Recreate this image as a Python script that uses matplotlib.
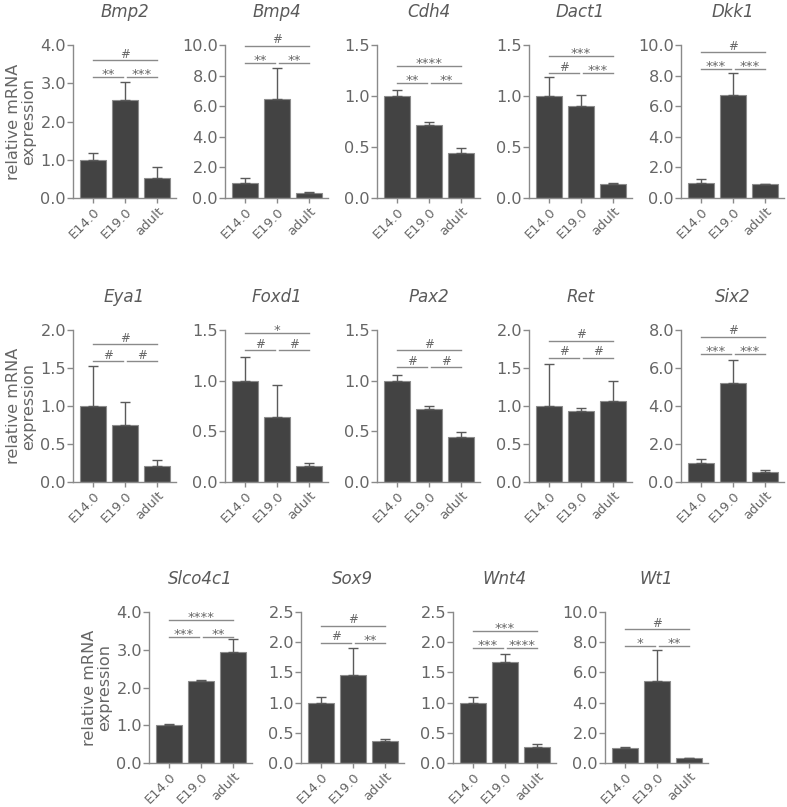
import matplotlib
matplotlib.use("Agg")
import matplotlib.pyplot as plt
import numpy as np

plt.rcParams['font.family'] = ['DejaVu Sans']

# ---------------- data ----------------
groups = ["E14.0", "E19.0", "adult"]
genes = ["Bmp2", "Bmp4", "Cdh4", "Dact1", "Dkk1",
         "Eya1", "Foxd1", "Pax2", "Ret", "Six2",
         "Slco4c1", "Sox9", "Wnt4", "Wt1"]

means = {
    "Bmp2":    [1.00, 2.55, 0.53],
    "Bmp4":    [1.00, 6.45, 0.35],
    "Cdh4":    [1.00, 0.72, 0.44],
    "Dact1":   [1.00, 0.90, 0.14],
    "Dkk1":    [1.00, 6.70, 0.90],
    "Eya1":    [1.00, 0.75, 0.21],
    "Foxd1":   [1.00, 0.64, 0.16],
    "Pax2":    [1.00, 0.72, 0.44],
    "Ret":     [1.00, 0.94, 1.06],
    "Six2":    [1.00, 5.20, 0.52],
    "Slco4c1": [1.00, 2.18, 2.95],
    "Sox9":    [1.00, 1.45, 0.36],
    "Wnt4":    [1.00, 1.68, 0.26],
    "Wt1":     [1.00, 5.45, 0.30],
}
errors = {
    "Bmp2":    [0.17, 0.47, 0.27],
    "Bmp4":    [0.33, 2.05, 0.07],
    "Cdh4":    [0.06, 0.03, 0.05],
    "Dact1":   [0.19, 0.11, 0.01],
    "Dkk1":    [0.25, 1.45, 0.02],
    "Eya1":    [0.52, 0.30, 0.08],
    "Foxd1":   [0.23, 0.32, 0.03],
    "Pax2":    [0.06, 0.03, 0.05],
    "Ret":     [0.55, 0.04, 0.27],
    "Six2":    [0.20, 1.20, 0.13],
    "Slco4c1": [0.02, 0.03, 0.33],
    "Sox9":    [0.09, 0.46, 0.04],
    "Wnt4":    [0.10, 0.13, 0.06],
    "Wt1":     [0.05, 2.05, 0.02],
}
# significance labels: (E14 vs E19, E19 vs adult, E14 vs adult)
signif = {
    "Bmp2":    ["**", "***", "#"],
    "Bmp4":    ["**", "**", "#"],
    "Cdh4":    ["**", "**", "****"],
    "Dact1":   ["#", "***", "***"],
    "Dkk1":    ["***", "***", "#"],
    "Eya1":    ["#", "#", "#"],
    "Foxd1":   ["#", "#", "*"],
    "Pax2":    ["#", "#", "#"],
    "Ret":     ["#", "#", "#"],
    "Six2":    ["***", "***", "#"],
    "Slco4c1": ["***", "**", "****"],
    "Sox9":    ["#", "**", "#"],
    "Wnt4":    ["***", "****", "***"],
    "Wt1":     ["*", "**", "#"],
}
# y-axis max and tick step
ymax = {"Bmp2": 4, "Bmp4": 10, "Cdh4": 1.5, "Dact1": 1.5, "Dkk1": 10,
        "Eya1": 2, "Foxd1": 1.5, "Pax2": 1.5, "Ret": 2, "Six2": 8,
        "Slco4c1": 4, "Sox9": 2.5, "Wnt4": 2.5, "Wt1": 10}
ystep = {"Bmp2": 1, "Bmp4": 2, "Cdh4": 0.5, "Dact1": 0.5, "Dkk1": 2,
         "Eya1": 0.5, "Foxd1": 0.5, "Pax2": 0.5, "Ret": 0.5, "Six2": 2,
         "Slco4c1": 1, "Sox9": 0.5, "Wnt4": 0.5, "Wt1": 2}

# ---------------- layout / style ----------------
W, H = 787, 807
upper_frac = {"Bmp2": 0.90, "Bmp4": 0.995, "Cdh4": 0.86, "Dact1": 0.927,
              "Dkk1": 0.952, "Eya1": 0.905, "Foxd1": 0.98, "Pax2": 0.867,
              "Ret": 0.93, "Six2": 0.956, "Slco4c1": 0.945, "Sox9": 0.908,
              "Wnt4": 0.876, "Wt1": 0.886}
rows = [
    (["Bmp2", "Bmp4", "Cdh4", "Dact1", "Dkk1"], 73, 45, 198),
    (["Eya1", "Foxd1", "Pax2", "Ret", "Six2"], 73, 330, 482),
    (["Slco4c1", "Sox9", "Wnt4", "Wt1"], 149, 612, 763),
]
step_px = 152
ax_w = 103

TXT = "#666666"
SPINE = "#8a8a8a"
BAR = "#434343"

fig = plt.figure(figsize=(W / 100, H / 100), dpi=100)

for names, x0, top, bottom in rows:
    for i, g in enumerate(names):
        left = x0 + i * step_px
        ax = fig.add_axes([left / W, 1 - bottom / H, ax_w / W, (bottom - top) / H])
        x = np.arange(len(groups))
        ax.bar(x, means[g], width=0.81, color=BAR, edgecolor="#8c8c8c",
               linewidth=0.8, zorder=2)
        ax.errorbar(x, means[g], yerr=[np.zeros(3), errors[g]], fmt="none",
                    ecolor="#5a5a5a", elinewidth=1.0, capsize=3.5,
                    capthick=1.0, zorder=3)
        ax.set_xlim(-0.63, 2.6)
        ax.set_ylim(0, ymax[g])
        ticks = np.arange(0, ymax[g] + 1e-9, ystep[g])
        ax.set_yticks(ticks)
        ax.set_yticklabels([f"{t:.1f}" for t in ticks])
        ax.set_xticks(x)
        ax.set_xticklabels(groups, rotation=45, ha="right",
                           rotation_mode="anchor")
        for s in ["top", "right"]:
            ax.spines[s].set_visible(False)
        for s in ["left", "bottom"]:
            ax.spines[s].set_color(SPINE)
            ax.spines[s].set_linewidth(1.0)
        ax.tick_params(axis="y", colors=SPINE, labelcolor=TXT, labelsize=11.6,
                       length=4, width=1.0, pad=1)
        ax.tick_params(axis="x", colors=SPINE, labelcolor=TXT, labelsize=9.5,
                       length=3.5, width=1.0, pad=1.5)
        ax.set_title(g, style="italic", color="#5a5a5a", fontsize=12, pad=20)
        if i == 0:
            ax.set_ylabel("relative mRNA\nexpression", color=TXT,
                          fontsize=11.6, labelpad=3, linespacing=1.05)

        # significance brackets
        uf = upper_frac[g]
        lf = uf - 17 / (bottom - top)
        trans = ax.get_xaxis_transform()
        gap = 0.06
        segs = [(0, 1 - gap, lf), (1 + gap, 2, lf), (0, 2, uf)]
        for (xa, xb, yf), lab in zip(segs, signif[g]):
            ax.plot([xa, xb], [yf, yf], color="#8a8a8a", lw=1.0,
                    transform=trans, clip_on=False, zorder=4)
            off = 1.8 if lab == "#" else -0.6
            ax.annotate(lab, xy=((xa + xb) / 2, yf), xycoords=trans,
                        xytext=(0, off), textcoords="offset points",
                        ha="center", va="baseline", color=TXT,
                        fontsize=8.5 if lab == "#" else 9.5,
                        annotation_clip=False)

fig.savefig("out.png", dpi=100)
